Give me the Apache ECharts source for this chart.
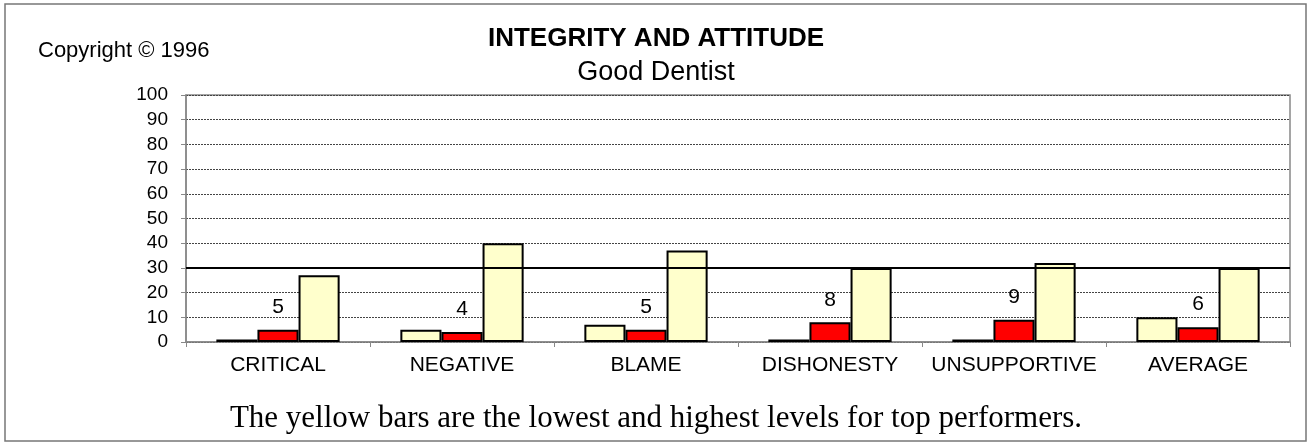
<!DOCTYPE html>
<html>
<head>
<meta charset="utf-8">
<script src="https://cdn.jsdelivr.net/npm/echarts@6/dist/echarts.min.js"></script>
<style>
  html, body { margin: 0; padding: 0; background: #fff; }
  #chart { width: 1312px; height: 446px; }
</style>
</head>
<body>
<div id="chart"></div>
<script>
const categories = ["CRITICAL", "NEGATIVE", "BLAME", "DISHONESTY", "UNSUPPORTIVE", "AVERAGE"];
const lowValues = [1, 5, 7, 1, 1, 10];
const dentistValues = [5, 4, 5, 8, 9, 6];
const highValues = [27, 40, 37, 30, 32, 30];
const targetLine = 30;

const chart = echarts.init(document.getElementById("chart"));

const barBorder = { borderColor: "#000", borderWidth: 2 };

chart.setOption({
  animation: false,
  textStyle: { fontFamily: "Liberation Sans, Arial, sans-serif" },
  title: [
    {
      text: "INTEGRITY AND ATTITUDE",
      left: "center",
      top: 21,
      textStyle: { fontSize: 26, fontWeight: "bold", color: "#000" },
    },
    {
      text: "Good Dentist",
      left: "center",
      top: 54,
      textStyle: { fontSize: 27, fontWeight: "normal", color: "#000" },
    },
    {
      text: "Copyright © 1996",
      left: 33,
      top: 35,
      textStyle: { fontSize: 22, fontWeight: "normal", color: "#000" },
    },
  ],
  graphic: [
    {
      type: "rect",
      shape: { x: 5, y: 4, width: 1301, height: 437 },
      style: { fill: null, stroke: "#777", lineWidth: 1.5 },
      silent: true,
    },
    {
      type: "text",
      left: "center",
      top: 403,
      style: {
        text: "The yellow bars are the lowest and highest levels for top performers.",
        font: "31px 'Liberation Serif', 'Times New Roman', serif",
        fill: "#000",
      },
    },
  ],
  grid: {
    left: 186,
    right: 22,
    top: 95,
    bottom: 104,
    show: true,
    borderColor: "#888",
    borderWidth: 1.5,
  },
  xAxis: {
    type: "category",
    data: categories,
    axisLine: { lineStyle: { color: "#888", width: 1.5 } },
    axisTick: { show: true, length: 5, lineStyle: { color: "#888" } },
    axisLabel: { color: "#000", fontSize: 21, margin: 13, interval: 0 },
  },
  yAxis: {
    type: "value",
    min: 0,
    max: 100,
    interval: 10,
    axisLine: { show: true, lineStyle: { color: "#888", width: 1.5 } },
    axisTick: { show: true, length: 5, lineStyle: { color: "#888" } },
    axisLabel: { color: "#000", fontSize: 19, margin: 18 },
    splitLine: { lineStyle: { color: "#444", type: [2, 1], width: 1 } },
  },
  series: [
    {
      name: "low",
      type: "bar",
      data: lowValues,
      clip: false,
      barGap: "0%",
      barCategoryGap: "33%",
      itemStyle: Object.assign({ color: "#ffffcc" }, barBorder),
    },
    {
      name: "dentist",
      type: "bar",
      data: dentistValues,
      clip: false,
      itemStyle: Object.assign({ color: "#ff0000" }, barBorder),
      label: {
        show: true,
        position: "top",
        distance: 12,
        fontSize: 21,
        color: "#000",
      },
    },
    {
      name: "high",
      type: "bar",
      data: highValues,
      clip: false,
      itemStyle: Object.assign({ color: "#ffffcc" }, barBorder),
      markLine: {
        silent: true,
        symbol: "none",
        label: { show: false },
        lineStyle: { color: "#000", width: 2, type: "solid" },
        data: [{ yAxis: targetLine }],
      },
    },
  ],
});
</script>
</body>
</html>
